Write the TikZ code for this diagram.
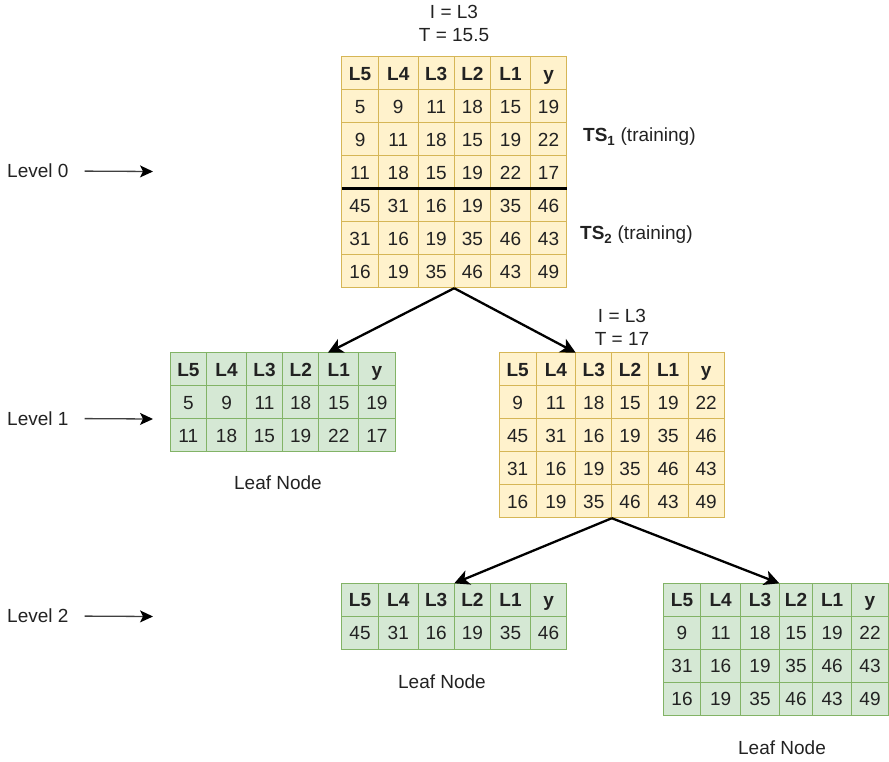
\documentclass[tikz,border=0pt]{standalone}
\usepackage{fontspec}
\setmainfont{Liberation Sans}
\usetikzlibrary{matrix,arrows.meta,calc}
\definecolor{yfill}{HTML}{FFF2CC}
\definecolor{ydraw}{HTML}{D6B656}
\definecolor{gfill}{HTML}{D5E8D4}
\definecolor{gdraw}{HTML}{82B366}
\definecolor{txt}{HTML}{222222}
\tikzset{
  fs/.style={font=\fontsize{19}{23}\selectfont},
  cell/.style={draw, rectangle, inner sep=0pt, minimum height=33pt, line width=1pt,
    text height=13.6pt, text depth=0pt, text=txt, fs},
  tab/.style={matrix of nodes, column sep=-1pt, row sep=-1pt, inner sep=0pt,
    outer sep=0pt, anchor=north west,
    row 1/.style={nodes={font=\fontsize{19}{23}\selectfont\bfseries}}},
  ytab/.style={tab, nodes={cell, draw=ydraw, fill=yfill}},
  gtab/.style={tab, nodes={cell, draw=gdraw, fill=gfill}},
  wstd/.style={column 1/.style={nodes={minimum width=36.7pt}},
               column 2/.style={nodes={minimum width=39.7pt}},
               column 3/.style={nodes={minimum width=36.2pt}},
               column 4/.style={nodes={minimum width=36.3pt}},
               column 5/.style={nodes={minimum width=39.8pt}},
               column 6/.style={nodes={minimum width=36.3pt}}},
  wright/.style={column 1/.style={nodes={minimum width=37.4pt}},
               column 2/.style={nodes={minimum width=40pt}},
               column 3/.style={nodes={minimum width=38.6pt}},
               column 4/.style={nodes={minimum width=33.4pt}},
               column 5/.style={nodes={minimum width=39pt}},
               column 6/.style={nodes={minimum width=36.6pt}}},
  lbl/.style={fs, text=txt, inner sep=0pt},
  conn/.style={line width=2.3pt, draw=black, -{Stealth[length=15pt,width=15pt,inset=4pt]}},
  levarr/.style={line width=1.3pt, draw=black!75, -{Stealth[length=13pt,width=12pt,inset=3pt,black]}},
}
\begin{document}
\begin{tikzpicture}[x=1pt,y=-1pt]
\useasboundingbox (0,0) rectangle (889,761);

% Level 0 table
\matrix (T0) [ytab, wstd] at (341.2,56.2) {
L5 & L4 & L3 & L2 & L1 & y \\
5 & 9 & 11 & 18 & 15 & 19 \\
9 & 11 & 18 & 15 & 19 & 22 \\
11 & 18 & 15 & 19 & 22 & 17 \\
45 & 31 & 16 & 19 & 35 & 46 \\
31 & 16 & 19 & 35 & 46 & 43 \\
16 & 19 & 35 & 46 & 43 & 49 \\
};
\draw[line width=2.6pt, black] (T0-4-1.south west) -- (T0-4-6.south east);
\node[lbl, align=center] (c0) at (454,23.5) {I = L3\\T = 15.5};
\node[lbl, anchor=west] (ts1) at (583,137) {\textbf{TS\textsubscript{1}} (training)};
\node[lbl, anchor=west] (ts2) at (580,235) {\textbf{TS\textsubscript{2}} (training)};

% Level 1 tables
\matrix (T1L) [gtab, wstd] at (169.5,352.2) {
L5 & L4 & L3 & L2 & L1 & y \\
5 & 9 & 11 & 18 & 15 & 19 \\
11 & 18 & 15 & 19 & 22 & 17 \\
};
\node[lbl] (leaf1) at (278,483) {Leaf Node};

\matrix (T1R) [ytab, wstd] at (498.8,352.2) {
L5 & L4 & L3 & L2 & L1 & y \\
9 & 11 & 18 & 15 & 19 & 22 \\
45 & 31 & 16 & 19 & 35 & 46 \\
31 & 16 & 19 & 35 & 46 & 43 \\
16 & 19 & 35 & 46 & 43 & 49 \\
};
\node[lbl, align=center] (c1) at (622,327.5) {I = L3\\T = 17};

% Level 2 tables
\matrix (T2L) [gtab, wstd] at (341.2,582.8) {
L5 & L4 & L3 & L2 & L1 & y \\
45 & 31 & 16 & 19 & 35 & 46 \\
};
\node[lbl] (leaf2) at (442,682) {Leaf Node};

\matrix (T2R) [gtab, wright] at (662.8,582.8) {
L5 & L4 & L3 & L2 & L1 & y \\
9 & 11 & 18 & 15 & 19 & 22 \\
31 & 16 & 19 & 35 & 46 & 43 \\
16 & 19 & 35 & 46 & 43 & 49 \\
};
\node[lbl] (leaf3) at (782,748) {Leaf Node};

% tree connectors
\draw[conn] (T0.south) -- ($(T1L-1-5.north west)+(9,0)$);
\draw[conn] (T0.south) -- (T1R-1-3.north west);
\draw[conn] (T1R.south) -- (T2L-1-4.north west);
\draw[conn] (T1R.south) -- (T2R-1-4.north west);

% level labels
\node[lbl, anchor=west] (lv0) at (7,171) {Level 0};
\node[lbl, anchor=west] (lv1) at (7,418.5) {Level 1};
\node[lbl, anchor=west] (lv2) at (7,616) {Level 2};
\coordinate (lv0e) at (153,171.5);
\coordinate (lv1e) at (153,419);
\coordinate (lv2e) at (153,616.5);
\draw[levarr, shorten <=16pt] (lv0.east) -- (lv0e);
\draw[levarr, shorten <=16pt] (lv1.east) -- (lv1e);
\draw[levarr, shorten <=16pt] (lv2.east) -- (lv2e);
\end{tikzpicture}
\end{document}
